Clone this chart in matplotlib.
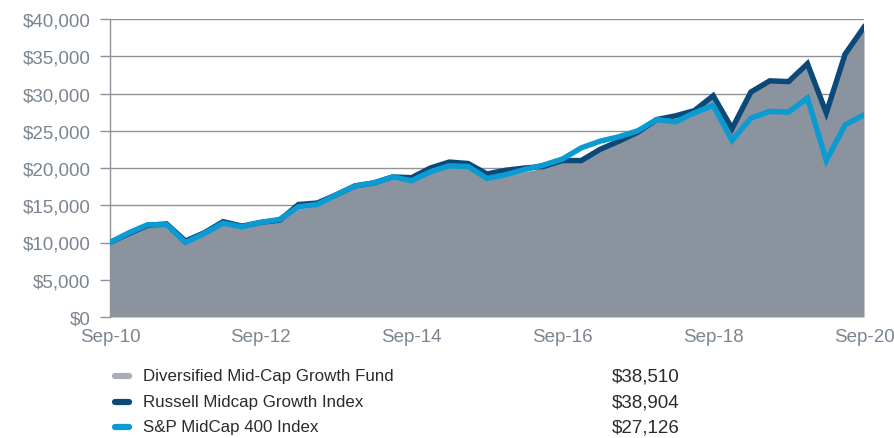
import matplotlib
matplotlib.use("Agg")
import matplotlib.pyplot as plt
from matplotlib.lines import Line2D

plt.rcParams['font.family'] = ['Liberation Sans', 'DejaVu Sans']

quarters = list(range(41))
tick_pos = [0, 8, 16, 24, 32, 40]
tick_labels = ["Sep-10", "Sep-12", "Sep-14", "Sep-16", "Sep-18", "Sep-20"]

sp400 = [10.0, 11.3, 12.4, 12.4, 10.0, 11.2, 12.6, 12.1, 12.7, 13.1,
         14.8, 15.1, 16.4, 17.6, 18.0, 18.8, 18.3, 19.5, 20.3, 20.2,
         18.6, 19.1, 19.8, 20.4, 21.2, 22.7, 23.6, 24.2, 25.0, 26.5,
         26.2, 27.4, 28.4, 23.7, 26.7, 27.6, 27.5, 29.4, 21.0, 25.8, 27.126]
russell = [10.0, 11.2, 12.3, 12.5, 10.2, 11.3, 12.8, 12.2, 12.7, 13.0,
           15.1, 15.3, 16.4, 17.6, 18.0, 18.8, 18.7, 20.0, 20.8, 20.6,
           19.2, 19.7, 20.0, 20.2, 21.0, 21.0, 22.5, 23.6, 24.8, 26.5,
           27.0, 27.7, 29.7, 25.3, 30.2, 31.7, 31.6, 34.0, 27.4, 35.3, 38.904]
fund = [9.9, 11.1, 12.1, 12.2, 9.9, 11.1, 12.4, 12.0, 12.5, 12.9,
        14.5, 14.9, 16.2, 17.4, 17.8, 18.5, 18.1, 19.3, 20.1, 19.9,
        18.4, 18.9, 19.5, 20.0, 20.8, 20.8, 22.3, 23.4, 24.6, 26.3,
        26.6, 27.5, 29.4, 25.2, 30.0, 31.9, 31.6, 34.6, 27.3, 35.1, 38.510]
sp400 = [v * 1000 for v in sp400]
russell = [v * 1000 for v in russell]
fund = [v * 1000 for v in fund]

names = ["Diversified Mid-Cap Growth Fund", "Russell Midcap Growth Index", "S&P MidCap 400 Index"]
end_values = ["$38,510", "$38,904", "$27,126"]

c_fill = "#8a939e"
c_fund_leg = "#a9aeb6"
c_dark = "#0b4a78"
c_light = "#0a9bd3"
c_grid = "#8c939b"
c_text = "#7b8590"

fig = plt.figure(figsize=(8.95, 4.39), dpi=100)
ax = fig.add_axes([110/895, 1-318/439, 754/895, 298/439])

ax.fill_between(quarters, 0, fund, color=c_fill, lw=0, zorder=2)
ax.plot(quarters, russell, color=c_dark, lw=3.9, zorder=3, solid_joinstyle='miter')
ax.plot(quarters, sp400, color=c_light, lw=3.9, zorder=4, solid_joinstyle='miter')

ax.set_xlim(0, 40)
ax.set_ylim(0, 40000)
yt = list(range(0, 40001, 5000))
ax.set_yticks(yt)
ax.set_yticklabels(["${:,}".format(v) for v in yt])
for v in yt:
    ax.axhline(v, color=c_grid, lw=1.0, zorder=1)
ax.set_xticks(tick_pos)
ax.set_xticklabels(tick_labels)

for s in ["top", "right", "bottom"]:
    ax.spines[s].set_visible(False)
ax.spines["left"].set_color(c_grid)
ax.spines["left"].set_linewidth(1.0)
ax.tick_params(axis='y', length=7, width=1.0, color=c_grid, labelcolor=c_text,
               labelsize=13.5, pad=7)
ax.tick_params(axis='x', length=0, labelcolor=c_text, labelsize=13.5, pad=8)

# legend
rows_y = [377, 403, 428]
leg_cols = [c_fund_leg, c_dark, c_light]
for yy, col, name, val in zip(rows_y, leg_cols, names, end_values):
    fy = 1 - yy / 439
    fig.add_artist(Line2D([115/895, 129/895], [fy, fy], color=col, lw=4.5,
                          solid_capstyle='round', transform=fig.transFigure))
    fig.text(143/895, fy, name, fontsize=12.2, color="#2b2b2b", va='center', ha='left')
    fig.text(612/895, fy, val, fontsize=13.5, color="#2b2b2b", va='center', ha='left')

fig.savefig("out.png", dpi=100)
